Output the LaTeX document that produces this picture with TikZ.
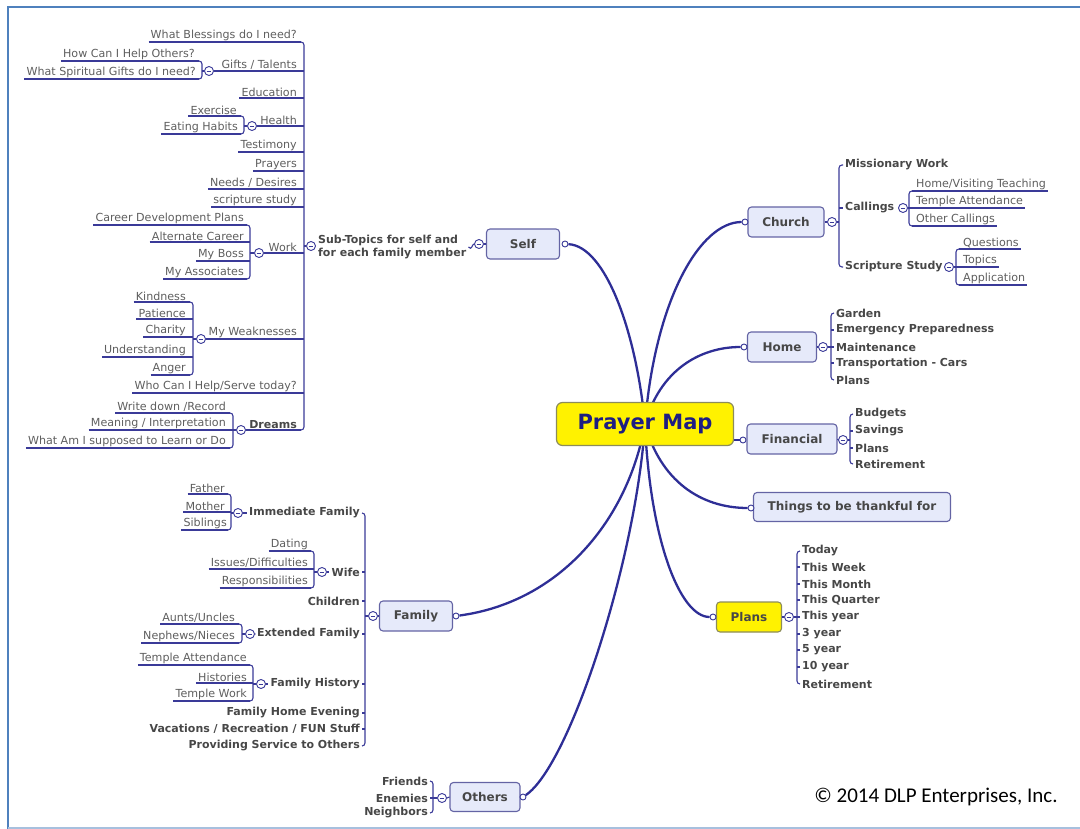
\documentclass[tikz,border=0pt]{standalone}
\usepackage{fontspec}
\setmainfont{DejaVu Sans}
\newfontfamily\cpfont{Carlito}
\usetikzlibrary{backgrounds}
\definecolor{navy}{HTML}{2E2E96}
\definecolor{linec}{HTML}{3A3A98}
\definecolor{txtr}{HTML}{5E5E5E}
\definecolor{txtb}{HTML}{474747}
\definecolor{topicfill}{HTML}{E6EAFA}
\definecolor{topicdraw}{HTML}{6464A4}
\definecolor{centerdraw}{HTML}{8C8C5A}
\definecolor{centertxt}{HTML}{1E1E82}
\definecolor{frameblue}{HTML}{4F81BD}
\definecolor{framelight}{HTML}{A7C0DE}
% left underlined item: name, x right, underline y, line end x, text
\newcommand\LuItem[5]{\node[subtxt,anchor=south east] (#1) at (#2,#3) {#5};\draw[subline] (#1.south west) -- (#4,#3);}
% right underlined item: name, x left, underline y, line start x, text
\newcommand\RuItem[5]{\node[subtxt,anchor=south west] (#1) at (#2,#3) {#5};\draw[subline] (#4,#3) -- (#1.south east);}
% left parent with collapse circle: name, x right, underline y, circle x, line end x, text, style
\newcommand\LpItem[7]{\node[#7,anchor=south east] (#1) at (#2,#3) {#6};\node[colbtn] (#1c) at (#4,#3) {};\draw[subline] (#1c.east) -- (#5,#3);}
\begin{document}
\begin{tikzpicture}[x=1pt,y=-1pt,
 subtxt/.style={font=\fontsize{11.1}{12}\selectfont,text=txtr,inner xsep=2pt,inner ysep=1pt},
 boldtxt/.style={font=\fontsize{11}{12}\selectfont\bfseries,text=txtb,inner xsep=2pt,inner ysep=1pt},
 topic/.style={draw=topicdraw,fill=topicfill,rounded corners=3.5pt,line width=1.1pt,font=\fontsize{12}{14}\selectfont\bfseries,text=txtb,minimum height=30pt,inner sep=0pt},
 subline/.style={draw=linec,line width=1.1pt},
 mainln/.style={draw=navy,line width=2.3pt},
 colbtn/.style={circle,draw=linec,fill=white,line width=0.9pt,minimum size=9pt,inner sep=0pt,path picture={\draw[linec,line width=0.8pt] ([xshift=-2.3pt]path picture bounding box.center) -- ([xshift=2.3pt]path picture bounding box.center);}},
 endot/.style={circle,draw=linec,fill=white,line width=0.9pt,minimum size=6pt,inner sep=0pt},
]
\useasboundingbox (0,0) rectangle (1080,829);
\draw[frameblue,line width=2.6pt] (8,829) -- (8,7) -- (1081,7);
\draw[framelight,line width=1.2pt] (8,828) -- (1080,828);

% central and main topics
\node[draw=centerdraw,fill=yellow,line width=1.2pt,rounded corners=6pt,minimum width=177pt,minimum height=43pt,font=\fontsize{21}{24}\selectfont\bfseries,text=centertxt] (pm) at (645,424) {Prayer Map};
\node[topic,minimum width=73pt] (self) at (523,244) {Self};
\node[topic,minimum width=76pt] (church) at (786,222) {Church};
\node[topic,minimum width=69pt] (home) at (782,347) {Home};
\node[topic,minimum width=90pt] (fin) at (792,439) {Financial};
\node[topic,minimum width=197pt,minimum height=29pt] (thank) at (852,507) {Things to be thankful for};
\node[topic,fill=yellow,draw=centerdraw,minimum width=65pt] (plans) at (749,617) {Plans};
\node[topic,minimum width=73pt] (family) at (416,616) {Family};
\node[topic,minimum width=70pt,minimum height=29pt] (others) at (485,797) {Others};

\node[endot] (selfd) at (565,244) {};
\node[endot] (churchd) at (745,222) {};
\node[endot] (homed) at (744,347) {};
\node[endot] (find) at (743,440) {};
\node[endot] (thankd) at (751,508) {};
\node[endot] (plansd) at (713,617) {};
\node[endot] (familyd) at (456,616) {};
\node[endot] (othersd) at (523,797) {};

\begin{scope}[on background layer]
\draw[mainln] (selfd) .. controls (605,246) and (636,330) .. (pm.center);
\draw[mainln] (churchd) .. controls (700,222) and (655,300) .. (pm.center);
\draw[mainln] (homed) .. controls (700,347) and (660,370) .. (pm.center);
\draw[mainln] (pm.center |- find) -- (find);
\draw[mainln] (thankd) .. controls (700,508) and (660,480) .. (pm.center);
\draw[mainln] (plansd) .. controls (680,617) and (650,540) .. (pm.center);
\draw[mainln] (familyd) .. controls (560,602) and (628,520) .. (pm.center);
\draw[mainln] (othersd) .. controls (570,765) and (636,560) .. (pm.center);
\end{scope}

% ---------------- Self ----------------
\node[colbtn] (selfc) at (479,244) {};
\draw[subline] (selfc.east) -- (self.west);
\node[boldtxt,anchor=west,align=left,font=\fontsize{11}{13}\selectfont\bfseries] (subt) at (316,247) {Sub-Topics for self and\\for each family member};
\draw[subline] (subt.east) .. controls (472,251) and (472,244) .. (selfc.west);
\node[colbtn] (subc) at (311,246) {};
\draw[subline] (304,246) -- (subc.west);
\draw[subline,rounded corners=3pt] (301,42) -- (304,42) -- (304,430) -- (301,430);

\LuItem{sb1}{299}{42}{301}{What Blessings do I need?}
\LpItem{gt}{299}{71}{209}{304}{Gifts / Talents}{subtxt}
\draw[subline,rounded corners=3pt] (199,61) -- (202,61) -- (202,79) -- (199,79);
\draw[subline] (202,71) -- (gtc.west);
\LuItem{g1}{197}{61}{199}{How Can I Help Others?}
\LuItem{g2}{198}{79}{199}{What Spiritual Gifts do I need?}
\LuItem{sb3}{299}{98}{304}{Education}
\LpItem{hl}{299}{126}{252}{304}{Health}{subtxt}
\draw[subline,rounded corners=3pt] (241,116) -- (244,116) -- (244,134) -- (241,134);
\draw[subline] (244,126) -- (hlc.west);
\LuItem{h1}{239}{116}{241}{Exercise}
\LuItem{h2}{240}{134}{241}{Eating Habits}
\LuItem{sb5}{299}{152}{304}{Testimony}
\LuItem{sb6}{299}{171}{304}{Prayers}
\LuItem{sb7}{299}{189}{304}{Needs / Desires}
\LuItem{sb8}{299}{207}{304}{scripture study}
\LpItem{wk}{299}{253}{259}{304}{Work}{subtxt}
\draw[subline,rounded corners=3pt] (247,225) -- (250,225) -- (250,279) -- (247,279);
\draw[subline] (250,253) -- (wkc.west);
\LuItem{w1}{246}{225}{247}{Career Development Plans}
\LuItem{w2}{246}{242}{250}{Alternate Career}
\LuItem{w3}{246}{261}{250}{My Boss}
\LuItem{w4}{246}{279}{247}{My Associates}
\LpItem{mw}{299}{339}{201}{304}{My Weaknesses}{subtxt}
\draw[subline,rounded corners=3pt] (190,302) -- (193,302) -- (193,375) -- (190,375);
\draw[subline] (193,339) -- (mwc.west);
\LuItem{k1}{188}{302}{190}{Kindness}
\LuItem{k2}{188}{319}{193}{Patience}
\LuItem{k3}{188}{337}{193}{Charity}
\LuItem{k4}{188}{357}{193}{Understanding}
\LuItem{k5}{188}{375}{190}{Anger}
\LuItem{sb11}{299}{393}{304}{Who Can I Help/Serve today?}
\LpItem{dr}{299}{430}{241}{301}{Dreams}{boldtxt}
\draw[subline,rounded corners=3pt] (230,413) -- (233,413) -- (233,448) -- (230,448);
\draw[subline] (233,430) -- (drc.west);
\LuItem{d1}{228}{413}{230}{Write down /Record}
\LuItem{d2}{228}{430}{233}{Meaning / Interpretation}
\LuItem{d3}{228}{448}{230}{What Am I supposed to Learn or Do}

% ---------------- Church ----------------
\node[colbtn] (churchc) at (832,222) {};
\draw[subline] (church.east) -- (churchc.west);
\draw[subline] (churchc.east) -- (839,222);
\node[boldtxt,anchor=west] (mwk) at (843,165) {Missionary Work};
\node[boldtxt,anchor=west] (cal) at (843,208) {Callings};
\node[boldtxt,anchor=west] (ss) at (843,267) {Scripture Study};
\draw[subline,rounded corners=3pt] (mwk.west) -- (839,165) -- (839,267) -- (ss.west);
\draw[subline] (839,208) -- (cal.west);
\node[colbtn] (calc) at (903,208) {};
\draw[subline] (calc.east) -- (909,208);
\draw[subline,rounded corners=3pt] (912,191) -- (909,191) -- (909,226) -- (912,226);
\RuItem{hv}{914}{191}{912}{Home/Visiting Teaching}
\RuItem{ta}{914}{208}{909}{Temple Attendance}
\RuItem{oc}{914}{226}{912}{Other Callings}
\node[colbtn] (ssc) at (949,267) {};
\draw[subline] (ssc.east) -- (956,267);
\draw[subline,rounded corners=3pt] (959,249) -- (956,249) -- (956,285) -- (959,285);
\RuItem{q}{961}{249}{959}{Questions}
\RuItem{tp}{961}{267}{956}{Topics}
\RuItem{ap}{961}{285}{959}{Application}

% ---------------- Home ----------------
\node[colbtn] (homec) at (823,347) {};
\draw[subline] (home.east) -- (homec.west);
\draw[subline] (homec.east) -- (831,347);
\foreach \t/\y [count=\i] in {Garden/313,{Emergency Preparedness}/330,Maintenance/347,{Transportation - Cars}/363,Plans/380}{
  \node[boldtxt,anchor=west] (hm\i) at (834,\y) {\t};}
\draw[subline,rounded corners=3pt] (hm1.west) -- (831,313) -- (831,380) -- (hm5.west);
\foreach \i in {2,3,4}{\draw[subline] (hm\i.west -| 831,0) -- (hm\i.west);}

% ---------------- Financial ----------------
\node[colbtn] (finc) at (843,440) {};
\draw[subline] (fin.east) -- (finc.west);
\draw[subline] (finc.east) -- (850,440);
\foreach \t/\y [count=\i] in {Budgets/414,Savings/431,Plans/448,Retirement/464}{
  \node[boldtxt,anchor=west] (fn\i) at (853,\y) {\t};}
\draw[subline,rounded corners=3pt] (fn1.west) -- (850,414) -- (850,464) -- (fn4.west);
\foreach \i in {2,3}{\draw[subline] (fn\i.west -| 850,0) -- (fn\i.west);}

% ---------------- Plans ----------------
\node[colbtn] (plansc) at (789,617) {};
\draw[subline] (plans.east) -- (plansc.west);
\draw[subline] (plansc.east) -- (797,617);
\foreach \t/\y [count=\i] in {Today/551,{This Week}/567,{This Month}/584,{This Quarter}/600,{This year}/617,{3 year}/634,{5 year}/650,{10 year}/667,Retirement/684}{
  \node[boldtxt,anchor=west] (pl\i) at (800,\y) {\t};}
\draw[subline,rounded corners=3pt] (pl1.west) -- (797,551) -- (797,684) -- (pl9.west);
\foreach \i in {2,...,8}{\draw[subline] (pl\i.west -| 797,0) -- (pl\i.west);}

% ---------------- Family ----------------
\node[colbtn] (famc) at (373,616) {};
\draw[subline] (famc.east) -- (family.west);
\draw[subline] (365,616) -- (famc.west);
\foreach \t/\y [count=\i] in {{Immediate Family}/513,Wife/572,Children/601,{Extended Family}/634,{Family History}/684,{Family Home Evening}/713,{Vacations / Recreation / FUN Stuff}/729,{Providing Service to Others}/746}{
  \node[boldtxt,anchor=east] (fm\i) at (362,\y) {\t};}
\draw[subline,rounded corners=3pt] (fm1.east) -- (365,513) -- (365,746) -- (fm8.east);
\foreach \i in {2,...,7}{\draw[subline] (fm\i.east) -- (fm\i.east -| 365,0);}
% Immediate Family
\node[colbtn] (fm1c) at (238,513) {};
\draw[subline] (fm1c.east) -- (fm1.west);
\draw[subline] (231,513) -- (fm1c.west);
\draw[subline,rounded corners=3pt] (228,494) -- (231,494) -- (231,530) -- (228,530);
\LuItem{fa}{227}{494}{228}{Father}
\LuItem{mo}{227}{512}{231}{Mother}
\LuItem{si}{229}{530}{228}{Siblings}
% Wife
\node[colbtn] (fm2c) at (322,572) {};
\draw[subline] (fm2c.east) -- (fm2.west);
\draw[subline] (314,572) -- (fm2c.west);
\draw[subline,rounded corners=3pt] (311,551) -- (314,551) -- (314,588) -- (311,588);
\LuItem{da}{310}{551}{311}{Dating}
\LuItem{id}{310}{569}{314}{Issues/Difficulties}
\LuItem{re}{310}{588}{311}{Responsibilities}
% Extended Family
\node[colbtn] (fm4c) at (250,634) {};
\draw[subline] (fm4c.east) -- (fm4.west);
\draw[subline] (242,634) -- (fm4c.west);
\draw[subline,rounded corners=3pt] (239,624) -- (242,624) -- (242,643) -- (239,643);
\LuItem{au}{237}{624}{239}{Aunts/Uncles}
\LuItem{ne}{237}{643}{239}{Nephews/Nieces}
% Family History
\node[colbtn] (fm5c) at (261,684) {};
\draw[subline] (fm5c.east) -- (fm5.west);
\draw[subline] (253,684) -- (fm5c.west);
\draw[subline,rounded corners=3pt] (250,665) -- (253,665) -- (253,701) -- (250,701);
\LuItem{tat}{249}{665}{250}{Temple Attendance}
\LuItem{his}{249}{683}{253}{Histories}
\LuItem{tw}{249}{701}{250}{Temple Work}

% ---------------- Others ----------------
\node[colbtn] (othc) at (442,798) {};
\draw[subline] (othc.east) -- (others.west);
\draw[subline] (433,798) -- (othc.west);
\foreach \t/\y [count=\i] in {Friends/781,Enemies/798,Neighbors/813}{
  \node[boldtxt,anchor=east] (ot\i) at (430,\y) {\t};}
\draw[subline,rounded corners=3pt] (ot1.east) -- (433,781) -- (433,813) -- (ot3.east);
\draw[subline] (ot2.east) -- (433,798);

% copyright
\node[font=\cpfont\fontsize{21}{24}\selectfont,text=black] (copy) at (936,797) {© 2014 DLP Enterprises, Inc.};
\end{tikzpicture}
\end{document}
